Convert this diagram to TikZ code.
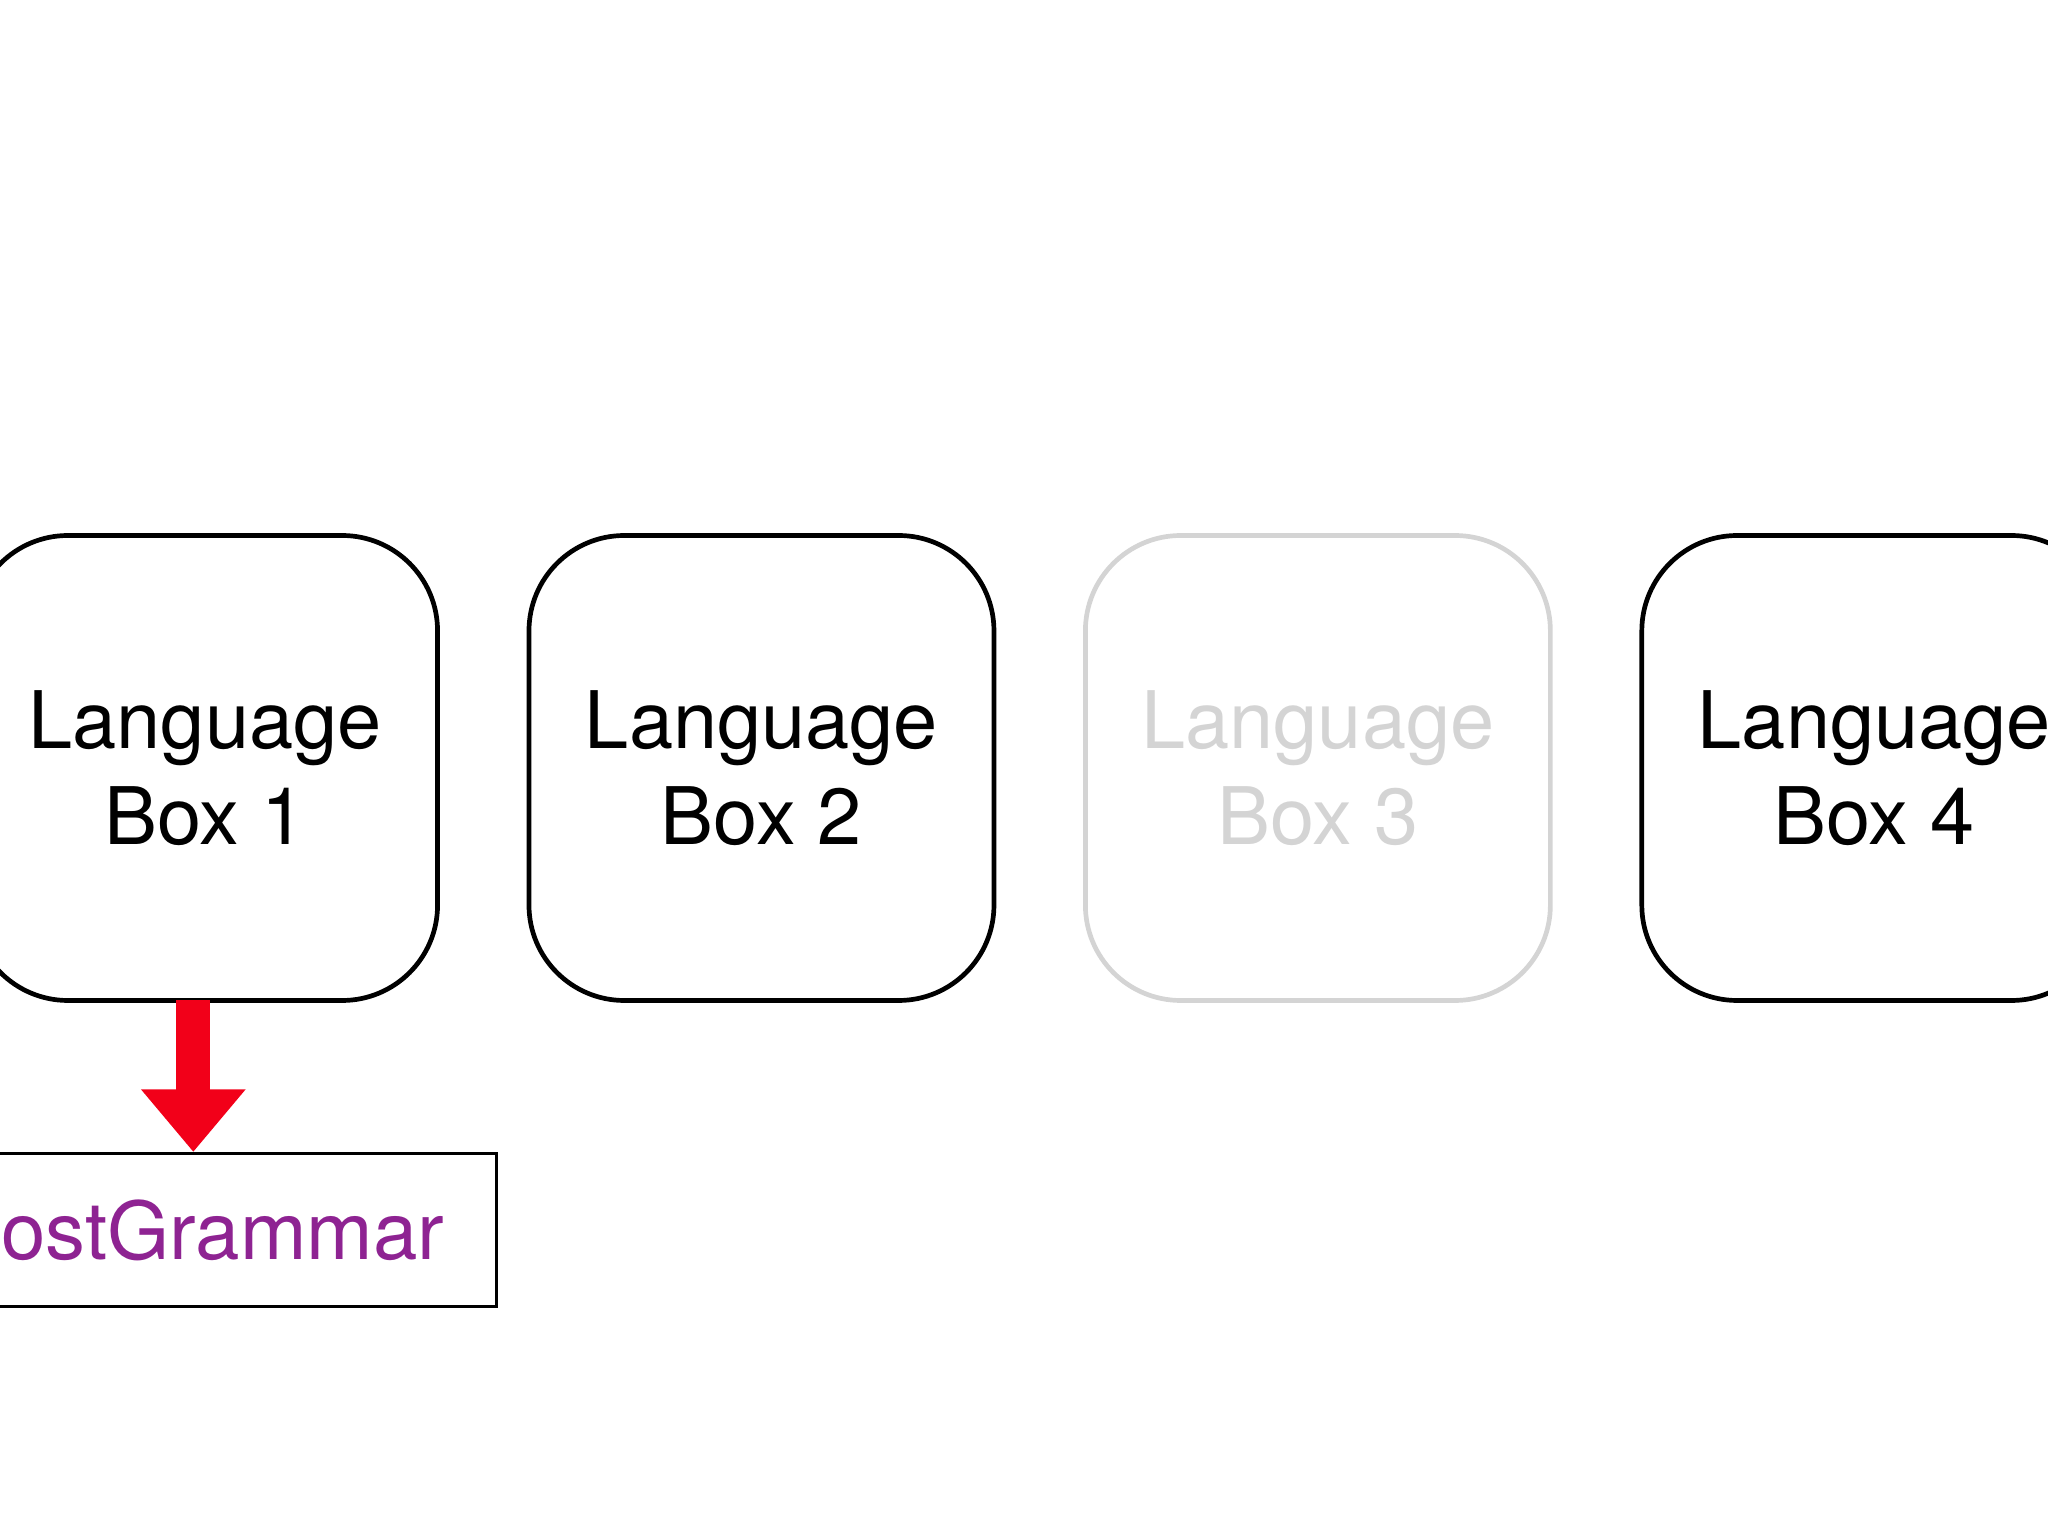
\documentclass[tikz,border=0pt]{standalone}
\usepackage{fontspec}
\setmainfont{TeX Gyre Heros}
\usetikzlibrary{positioning,arrows.meta}
\definecolor{boxgray}{HTML}{D4D4D4}
\definecolor{arrowred}{HTML}{F20019}
\definecolor{grampurple}{HTML}{8E2392}

\begin{document}
\begin{tikzpicture}[langbox/.style={draw, line width=0.036cm, rounded corners=0.73cm, minimum size=3.56cm, outer sep=0pt, align=center, font=\fontsize{17.3}{20.8}\selectfont}, fadedbox/.style={langbox, draw=boxgray, text=boxgray}, grambox/.style={draw, line width=0.024cm, rectangle, minimum height=1.17cm, text width=3.84cm, inner xsep=0.4cm, align=right, text=grampurple, font=\fontsize{17.4}{20.8}\selectfont}, bigarrow/.style={draw=arrowred, line width=0.26cm, -{Triangle[width=0.77cm,length=0.48cm]}}]
\useasboundingbox (0,0) rectangle (15.68,-11.76);
\node[langbox] (box1) at (1.57,-5.88) {Language\\Box 1};
\node[langbox, right=0.7cm of box1] (box2) {Language\\Box 2};
\node[fadedbox, right=0.7cm of box2] (box3) {Language\\Box 3};
\node[langbox, right=0.7cm of box3] (box4) {Language\\Box 4};
\node[grambox, anchor=north] (grammar) at ([xshift=-0.09cm, yshift=-1.16cm]box1.south) {ostGrammar};
\draw[bigarrow] (grammar.north |- box1.south) -- (grammar.north);
\end{tikzpicture}
\end{document}
